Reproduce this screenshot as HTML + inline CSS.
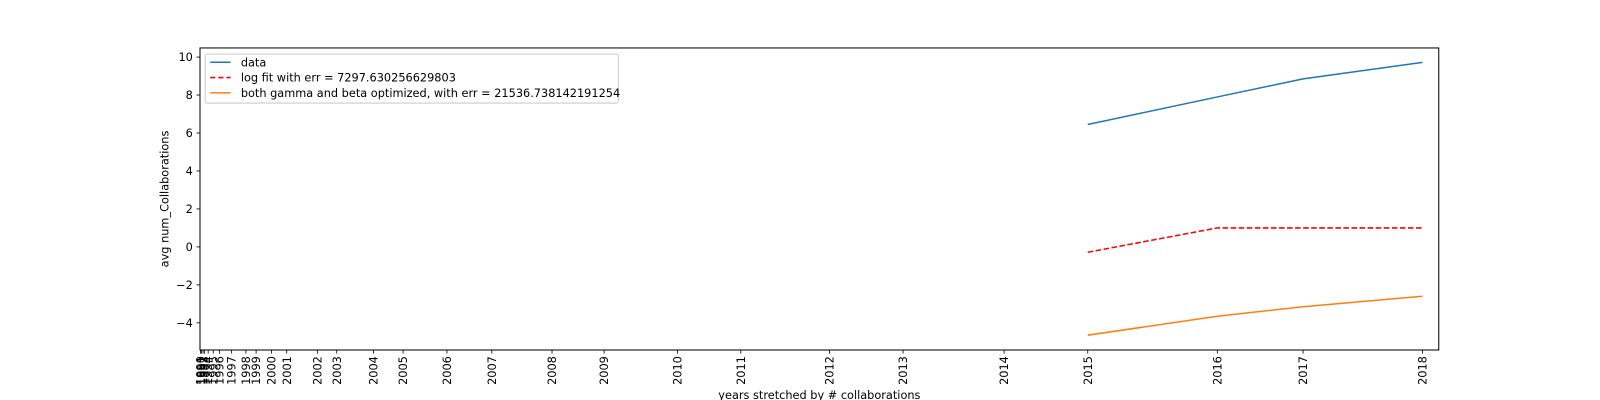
<!DOCTYPE html>
<html><head><meta charset="utf-8"><style>
body{margin:0;background:#fff;}
svg{display:block;font-family:"DejaVu Sans","Liberation Sans",sans-serif;}
</style></head><body>
<svg id="chart" width="1600" height="400">
<rect x="0" y="0" width="1600" height="400" fill="#fff"/>
<g transform="scale(1.0204)">
<g id="series"></g>
<rect x="196" y="47" width="1214" height="296" fill="none" stroke="#000" stroke-width="1"/>
<g id="xaxis" font-size="11.1"></g>
<g id="yaxis" font-size="11.1"></g>
<text x="803" y="391" text-anchor="middle" font-size="11.1">years stretched by # collaborations</text>
<text transform="translate(165,195) rotate(-90)" text-anchor="middle" font-size="11.1">avg num_Collaborations</text>
<g>
<rect x="201" y="53" width="405" height="48" fill="#fff" stroke="#ccc" rx="2"/>
<line x1="206" y1="61" x2="226" y2="61" stroke="#1f77b4" stroke-width="1.5"/>
<text x="236" y="65" font-size="11.1">data</text>
<line x1="206" y1="76" x2="226" y2="76" stroke="red" stroke-width="1.5" stroke-dasharray="5,3"/>
<text x="236" y="80" font-size="11.1">log fit with err = 7297.630256629803</text>
<line x1="206" y1="91" x2="226" y2="91" stroke="#ff7f0e" stroke-width="1.5"/>
<text x="236" y="95" font-size="11.1">both gamma and beta optimized, with err = 21536.738142191254</text>
</g>
</g>
</svg>
<script>
const tickYears = [1990,1991,1992,1993,1994,1995,1996,1997,1998,1999,2000,2001,2002,2003,2004,2005,2006,2007,2008,2009,2010,2011,2012,2013,2014,2015,2016,2017,2018];
const stretched = [0.5,1.5,3,4.5,8,13,19,31,45,55,70,85,115,134,170,199,242,286,345,396,468,530,617,689,788,870,997,1081,1198];
const seriesYears = [2015,2016,2017,2018];
const dataVals = [6.45,7.9,8.85,9.72];
const logFitVals = [-0.28,1.0,1.0,1.0];
const gammaBetaVals = [-4.65,-3.65,-3.15,-2.6];
const yTicks = [-4,-2,0,2,4,6,8,10];

const NS="http://www.w3.org/2000/svg";
const xMin=0,xMax=1214,yMin=-5.43,yMax=10.48;
function xs(v){return 196+(v-xMin)/(xMax-xMin)*1214;}
function ys(v){return 343-(v-yMin)/(yMax-yMin)*296;}
function stretchOf(y){return stretched[tickYears.indexOf(y)];}
function mk(tag,attrs,parent){const e=document.createElementNS(NS,tag);for(const k in attrs)e.setAttribute(k,attrs[k]);parent.appendChild(e);return e;}

const xa=document.getElementById('xaxis');
tickYears.forEach((yr,i)=>{
  const x=xs(stretched[i]);
  const t=mk('line',{x1:x,y1:343,x2:x,y2:346.5,stroke:'#000','stroke-width':0.8},xa);
  
  
  const l=mk('text',{transform:`translate(${x+4},349) rotate(-90)`,'text-anchor':'end'},xa);
  l.textContent=yr;
  
  
});
const ya=document.getElementById('yaxis');
yTicks.forEach(v=>{
  const y=ys(v);
  const t=mk('line',{x1:192.5,y1:y,x2:196,y2:y,stroke:'#000','stroke-width':0.8},ya);
  
  
  const l=mk('text',{x:189,y:y+4,'text-anchor':'end'},ya);
  l.textContent=v<0?'\u2212'+Math.abs(v):String(v);
  
  
});
const sg=document.getElementById('series');
function line(vals,color,dash,name){
  const pts=seriesYears.map((yr,i)=>xs(stretchOf(yr))+','+ys(vals[i])).join(' ');
  const p=mk('polyline',{points:pts,fill:'none',stroke:color,'stroke-width':1.5},sg);
  if(dash)p.setAttribute('stroke-dasharray',dash);
  
  
}
line(dataVals,'#1f77b4',null,'data-line');
line(logFitVals,'red','5.5,2.4','log-fit-line');
line(gammaBetaVals,'#ff7f0e',null,'gamma-beta-line');
</script>
</body></html>
